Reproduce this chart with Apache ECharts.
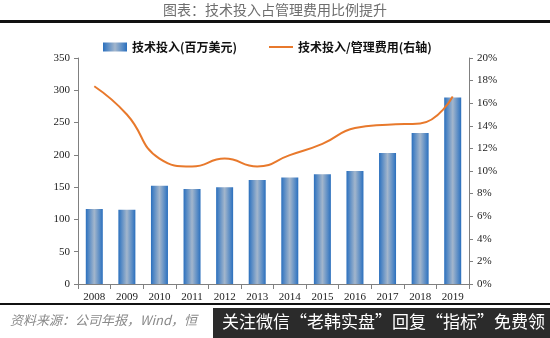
<!DOCTYPE html>
<html><head><meta charset="utf-8">
<script src="https://cdn.jsdelivr.net/npm/echarts@6/dist/echarts.min.js"></script>
<style>html,body{margin:0;padding:0;background:#fff}#c{width:550px;height:338px}</style>
</head><body><div id="c"></div>
<script>
const categories = ['2008','2009','2010','2011','2012','2013','2014','2015','2016','2017','2018','2019'];
const techInvest = [116, 115, 152, 147, 150, 161, 165, 170, 175, 203, 234, 289];
const ratioPct = [17.5, 15.0, 11.1, 10.4, 11.1, 10.4, 11.4, 12.4, 13.8, 14.1, 14.2, 16.6];
const leftTicks = [0, 350, 50];
const rightTicks = [0, 20, 2];

const chart = echarts.init(document.getElementById('c'));
const serif = '"Liberation Serif","Noto Sans CJK SC",serif';
const barGrad = new echarts.graphic.LinearGradient(0,0,1,0,[
  {offset:0,color:'#2a6fbd'},{offset:0.15,color:'#4f86c4'},{offset:0.5,color:'#a3b6cc'},{offset:0.85,color:'#4f86c4'},{offset:1,color:'#2a6fbd'}]);
const legendText = {fontSize:12,fontWeight:'bold',color:'#111',fontFamily:'"Noto Sans CJK SC",serif'};
chart.setOption({
  animation:false,
  textStyle:{fontFamily:serif},
  graphic:[
    {type:'text',left:'center',top:3,style:{text:'图表：技术投入占管理费用比例提升',fontSize:14,fill:'#6e6e6e',fontFamily:'"Noto Sans CJK SC",serif',letterSpacing:2}},
    {type:'rect',shape:{x:0,y:20,width:550,height:3},style:{fill:'#111'}},
    {type:'rect',shape:{x:0,y:303,width:550,height:2},style:{fill:'#111'}},
    {type:'text',left:10,top:314,style:{text:'资料来源：公司年报，Wind，恒',fontSize:13,fill:'#8a8a8a',fontStyle:'italic',fontFamily:'"Noto Sans CJK SC",serif'}},
    {type:'rect',shape:{x:213,y:308,width:337,height:30},style:{fill:'#2b2b2b'}},
    {type:'text',left:222,top:313,style:{text:'关注微信“老韩实盘”回复“指标”免费领',fontSize:17,fill:'#ffffff',fontFamily:'"Noto Sans CJK SC",sans-serif'}}
  ],
  legend:[
    {top:36,left:98,itemWidth:24,itemHeight:9,textStyle:legendText,
     data:[{name:'技术投入(百万美元)',icon:'rect'}]},
    {top:36,left:264,itemWidth:24,itemHeight:2,textStyle:legendText,
     data:[{name:'技术投入/管理费用(右轴)',icon:'rect'}]}
  ],
  grid:{left:78,right:81,top:58,bottom:54},
  xAxis:{type:'category',data:categories,
    axisLine:{lineStyle:{color:'#808080'}},
    axisTick:{show:true,alignWithLabel:false,lineStyle:{color:'#808080'}},
    axisLabel:{color:'#222',fontSize:11,fontFamily:serif,margin:8}},
  yAxis:[
    {type:'value',min:leftTicks[0],max:leftTicks[1],interval:leftTicks[2],
     axisLine:{show:true,lineStyle:{color:'#808080'}},axisTick:{show:true,length:4,lineStyle:{color:'#808080'}},
     splitLine:{show:false},axisLabel:{color:'#222',fontSize:11,fontFamily:serif}},
    {type:'value',min:rightTicks[0],max:rightTicks[1],interval:rightTicks[2],position:'right',
     axisLine:{show:true,lineStyle:{color:'#808080'}},axisTick:{show:true,length:4,lineStyle:{color:'#808080'}},
     splitLine:{show:false},axisLabel:{color:'#222',fontSize:11,fontFamily:serif,formatter:v=>v+'%'}}
  ],
  series:[
    {name:'技术投入(百万美元)',type:'bar',data:techInvest,barWidth:17,itemStyle:{color:barGrad}},
    {name:'技术投入/管理费用(右轴)',type:'line',yAxisIndex:1,data:ratioPct,smooth:0.5,symbol:'none',
     lineStyle:{color:'#e8792c',width:2},itemStyle:{color:'#e8792c'}}
  ]
});
</script></body></html>
